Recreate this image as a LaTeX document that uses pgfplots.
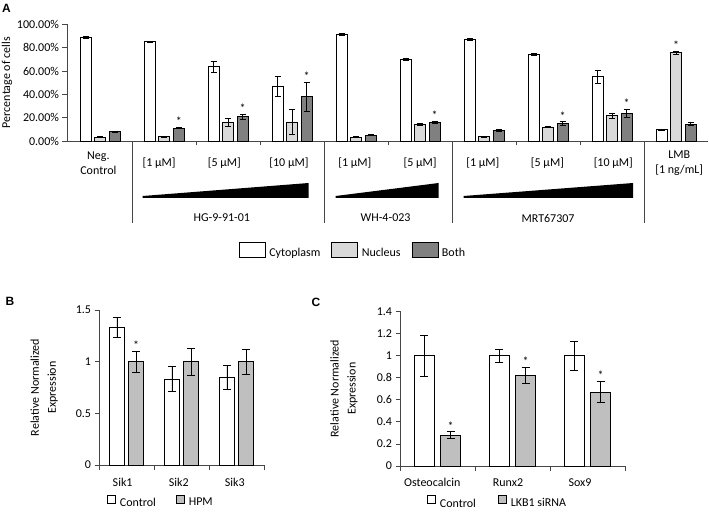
\documentclass[border=0pt]{standalone}
\usepackage{fontspec}
\setmainfont{Carlito}
\newfontfamily\panelfont{Liberation Sans}
\usepackage{pgfplots}
\usepackage{pgfplotstable}
\pgfplotsset{compat=1.18}

\definecolor{nucgray}{RGB}{217,217,217}
\definecolor{bothgray}{RGB}{128,128,128}
\definecolor{hpmgray}{RGB}{191,191,191}
\definecolor{axcol}{RGB}{70,70,70}

\newcommand{\tf}{\fontsize{12bp}{15.5bp}\selectfont}
\newcommand{\af}{\fontsize{12bp}{12bp}\selectfont}
\newcommand{\pf}{\panelfont\bfseries\fontsize{12bp}{12bp}\selectfont}

\pgfplotstableread{
x cyto cytoe nuc nuce both bothe
0 88.8 0.6 3.2 0.5 7.8 0.4
1 85.1 0.7 3.6 0.3 11.0 0.5
2 63.7 4.8 16.0 3.2 20.8 2.0
3 46.5 8.5 16.3 10.8 38.0 12.3
4 91.4 0.5 3.3 0.3 5.0 0.3
5 70.2 1.0 14.0 1.0 16.0 0.8
6 87.1 0.6 3.8 0.3 8.8 0.8
7 74.5 1.0 12.0 0.7 15.0 1.5
8 55.0 5.5 21.7 2.0 23.7 3.5
9 9.8 0.5 75.6 1.0 14.5 1.2
}\dataA

\pgfplotstableread{
x ctrl ctrle hpm hpme
0 1.33 0.095 1.00 0.10
1 0.83 0.12 1.00 0.13
2 0.85 0.115 1.00 0.12
}\dataB

\pgfplotstableread{
x ctrl ctrle lkb lkbe
0 1.00 0.185 0.28 0.03
1 1.00 0.06 0.82 0.075
2 1.00 0.13 0.67 0.095
}\dataC

\def\legLo{-3.5bp}\def\legHi{11.5bp}\def\legW{26bp}\def\legG{27.5bp}
\pgfplotsset{
  /pgfplots/ybar legend/.style={
    /pgfplots/legend image code/.code={\draw[##1, line width=0.8bp] (0bp,\legLo) rectangle (\legW,\legHi);
      \path (\legG,0bp);}},
  common/.style={
    scale only axis, anchor=south west,
    axis lines*=left,
    axis line style={axcol, line width=0.75bp},
    tick style={axcol, line width=0.75bp},
    tick align=outside, major tick length=4.5bp,
    tick label style={font=\tf},
    label style={font=\tf},
    /pgf/number format/assume math mode=true,
    ybar,
    error bars/y dir=both, error bars/y explicit,
    error bars/error bar style={black, line width=0.7bp},
    clip=false,
  },
}

\begin{document}
\begin{tikzpicture}
\path[use as bounding box] (0,0) rectangle (709bp,512bp);

\node[font=\pf, inner sep=0pt] at (6.5bp,503.5bp) {A};
\node[font=\pf, inner sep=0pt] at (10bp,210.5bp) {B};
\node[font=\pf, inner sep=0pt] at (316bp,209.5bp) {C};

% ---------------- Panel A ----------------
\begin{axis}[common,
  at={(67bp,371bp)}, width=641bp, height=116.7bp,
  xmin=-0.52, xmax=9.5, ymin=0, ymax=100,
  bar width=0.172,
  ytick={0,20,40,60,80,100},
  yticklabels={0.00\%,20.00\%,40.00\%,60.00\%,80.00\%,100.00\%},
  xtick={1.5,2.5,4.5,6.5,7.5}, xticklabels={{},{},{},{},{}},
  ylabel={Percentage of cells},
  ylabel style={at={(axis description cs:-0.0936,0.5)}, anchor=center},
  error bars/error mark options={rotate=90, black, mark size=3bp, line width=0.7bp},
  legend style={at={(axis description cs:0.268,-0.9426)}, anchor=west,
    draw=none, fill=none, inner sep=0pt, legend columns=-1, font=\tf,
    /tikz/every even column/.append style={column sep=9bp}},
]
\addplot[fill=white, draw=black, line width=0.8bp, bar shift=-0.227]
  table[x=x, y=cyto, y error=cytoe] {\dataA};
\addlegendentry{Cytoplasm}
\addplot[fill=nucgray, draw=black, line width=0.8bp, bar shift=0]
  table[x=x, y=nuc, y error=nuce] {\dataA};
\addlegendentry{Nucleus}
\addplot[fill=bothgray, draw=black, line width=0.8bp, bar shift=0.227]
  table[x=x, y=both, y error=bothe] {\dataA};
\addlegendentry{Both}

% category labels
\node[font=\tf, align=center] at ([yshift=-22bp]axis cs:-0.03,0) {Neg.\\Control};
\node[font=\tf] at ([yshift=-22bp]axis cs:0.92,0) {[1 µM]};
\node[font=\tf] at ([yshift=-22bp]axis cs:1.94,0) {[5 µM]};
\node[font=\tf] at ([yshift=-22bp]axis cs:2.95,0) {[10 µM]};
\node[font=\tf] at ([yshift=-22bp]axis cs:3.98,0) {[1 µM]};
\node[font=\tf] at ([yshift=-22bp]axis cs:5.0,0) {[5 µM]};
\node[font=\tf] at ([yshift=-22bp]axis cs:5.98,0) {[1 µM]};
\node[font=\tf] at ([yshift=-22bp]axis cs:6.99,0) {[5 µM]};
\node[font=\tf] at ([yshift=-22bp]axis cs:8.02,0) {[10 µM]};
\node[font=\tf, align=center] at ([yshift=-22bp]axis cs:9.05,0) {LMB\\{}{[1 ng/mL]}};

% group dividers
\draw[axcol, line width=0.75bp] (axis cs:0.5,0) -- ([yshift=-82bp]axis cs:0.5,0);
\draw[axcol, line width=0.75bp] (axis cs:3.5,0) -- ([yshift=-82bp]axis cs:3.5,0);
\draw[axcol, line width=0.75bp] (axis cs:5.5,0) -- ([yshift=-82bp]axis cs:5.5,0);
\draw[axcol, line width=0.75bp] (axis cs:8.5,0) -- ([yshift=-82bp]axis cs:8.5,0);

% wedges
\fill[black] ([yshift=-57bp]axis cs:0.664,0) -- ([yshift=-57bp]axis cs:3.258,0) -- ([yshift=-42bp]axis cs:3.258,0) -- ([yshift=-55bp]axis cs:0.664,0) -- cycle;
\fill[black] ([yshift=-57bp]axis cs:3.68,0) -- ([yshift=-57bp]axis cs:5.29,0) -- ([yshift=-42bp]axis cs:5.29,0) -- ([yshift=-55bp]axis cs:3.68,0) -- cycle;
\fill[black] ([yshift=-57bp]axis cs:5.68,0) -- ([yshift=-57bp]axis cs:8.33,0) -- ([yshift=-42bp]axis cs:8.33,0) -- ([yshift=-55bp]axis cs:5.68,0) -- cycle;

% group names
\node[font=\tf] at ([yshift=-77bp]axis cs:1.9,0) {HG-9-91-01};
\node[font=\tf] at ([yshift=-77bp]axis cs:4.46,0) {WH-4-023};
\node[font=\tf] at ([yshift=-77bp]axis cs:7.0,0) {MRT67307};

% asterisks
\node[font=\af, inner sep=0pt] at ([yshift=6bp]axis cs:1.227,11.5) {*};
\node[font=\af, inner sep=0pt] at ([yshift=6bp]axis cs:2.227,22.8) {*};
\node[font=\af, inner sep=0pt] at ([yshift=6bp]axis cs:3.227,50.3) {*};
\node[font=\af, inner sep=0pt] at ([yshift=6bp]axis cs:5.227,16.8) {*};
\node[font=\af, inner sep=0pt] at ([yshift=6bp]axis cs:7.227,16.5) {*};
\node[font=\af, inner sep=0pt] at ([yshift=6bp]axis cs:8.227,27.2) {*};
\node[font=\af, inner sep=0pt] at ([yshift=6bp]axis cs:9,76.6) {*};
\end{axis}

% ---------------- Panel B ----------------
\def\legLo{-0.3bp}\def\legHi{7.7bp}\def\legW{8bp}\def\legG{10bp}
\begin{axis}[common,
  at={(99bp,47bp)}, width=165bp, height=155bp,
  xmin=-0.5, xmax=2.5, ymin=0, ymax=1.5,
  ytick={0,0.5,1,1.5},
  xtick={-0.5,0.5,1.5,2.5}, xticklabels={{},{},{},{}},
  bar width=0.27,
  ylabel={Relative Normalized\\Expression},
  ylabel style={align=center, at={(axis description cs:-0.333,0.5)}, anchor=center,
    font=\fontsize{12bp}{17bp}\selectfont},
  error bars/error mark options={rotate=90, black, mark size=4bp, line width=0.7bp},
  legend style={at={(axis description cs:0.0485,-0.239)}, anchor=west,
    draw=none, fill=none, inner sep=0pt, legend columns=-1, font=\tf,
    /tikz/every even column/.append style={column sep=18bp}},
]
\addplot[fill=white, draw=black, line width=0.8bp, bar shift=-0.175]
  table[x=x, y=ctrl, y error=ctrle] {\dataB};
\addlegendentry{Control}
\addplot[fill=hpmgray, draw=black, line width=0.8bp, bar shift=0.175]
  table[x=x, y=hpm, y error=hpme] {\dataB};
\addlegendentry{HPM}
\node[font=\tf, anchor=base] at ([yshift=-21bp]axis cs:-0.07,0) {Sik1};
\node[font=\tf, anchor=base] at ([yshift=-21bp]axis cs:0.95,0) {Sik2};
\node[font=\tf, anchor=base] at ([yshift=-21bp]axis cs:1.97,0) {Sik3};
\node[font=\af, inner sep=0pt] at ([yshift=6bp]axis cs:0.175,1.10) {*};
\end{axis}

% ---------------- Panel C ----------------
\def\legLo{-0.3bp}\def\legHi{7.7bp}\def\legW{8bp}\def\legG{10bp}
\begin{axis}[common,
  at={(400bp,46bp)}, width=225bp, height=154.5bp,
  xmin=-0.5, xmax=2.5, ymin=0, ymax=1.4,
  ytick={0,0.2,0.4,0.6,0.8,1,1.2,1.4},
  xtick={-0.5,0.5,1.5,2.5}, xticklabels={{},{},{},{}},
  bar width=0.27,
  ylabel={Relative Normalized\\Expression},
  ylabel style={align=center, at={(axis description cs:-0.249,0.5)}, anchor=center,
    font=\fontsize{12bp}{17bp}\selectfont},
  error bars/error mark options={rotate=90, black, mark size=4bp, line width=0.7bp},
  legend style={at={(axis description cs:0.12,-0.2395)}, anchor=west,
    draw=none, fill=none, inner sep=0pt, legend columns=-1, font=\tf,
    /tikz/every even column/.append style={column sep=20bp}},
]
\addplot[fill=white, draw=black, line width=0.8bp, bar shift=-0.175]
  table[x=x, y=ctrl, y error=ctrle] {\dataC};
\addlegendentry{Control}
\addplot[fill=hpmgray, draw=black, line width=0.8bp, bar shift=0.175]
  table[x=x, y=lkb, y error=lkbe] {\dataC};
\addlegendentry{LKB1 siRNA}
\node[font=\tf, anchor=base] at ([yshift=-21bp]axis cs:-0.07,0) {Osteocalcin};
\node[font=\tf, anchor=base] at ([yshift=-21bp]axis cs:0.94,0) {Runx2};
\node[font=\tf, anchor=base] at ([yshift=-21bp]axis cs:1.9,0) {Sox9};
\node[font=\af, inner sep=0pt] at ([yshift=6bp]axis cs:0.175,0.31) {*};
\node[font=\af, inner sep=0pt] at ([yshift=6bp]axis cs:1.175,0.895) {*};
\node[font=\af, inner sep=0pt] at ([yshift=6bp]axis cs:2.175,0.765) {*};
\end{axis}
\end{tikzpicture}
\end{document}
